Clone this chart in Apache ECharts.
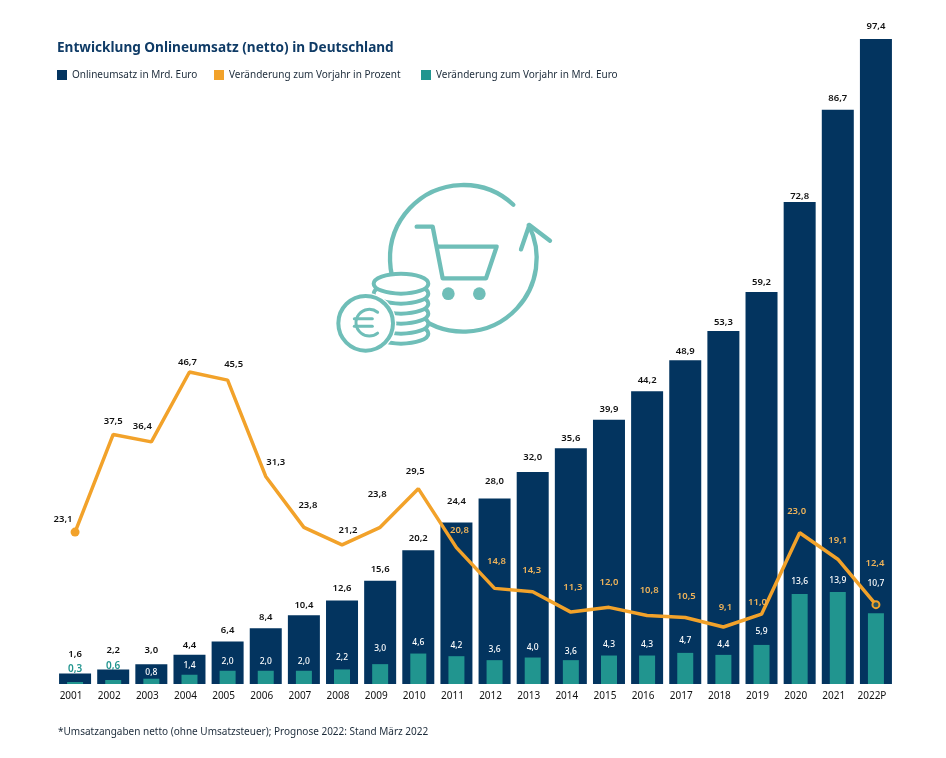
<!DOCTYPE html>
<html>
	<head>
		<meta charset="utf-8">
		<title>Entwicklung Onlineumsatz</title>
		<script src="https://cdn.jsdelivr.net/npm/echarts@6/dist/echarts.min.js"></script>
		<style>
			html, body { margin: 0; padding: 0; background: #fff; }
		</style>
	</head>
	<body>
		<div id="main" style="width: 946px; height: 758px;"></div>
		<script>
			var years = ['2001','2002','2003','2004','2005','2006','2007','2008','2009','2010','2011','2012','2013','2014','2015','2016','2017','2018','2019','2020','2021','2022P'];
			var umsatz = [1.6,2.2,3.0,4.4,6.4,8.4,10.4,12.6,15.6,20.2,24.4,28.0,32.0,35.6,39.9,44.2,48.9,53.3,59.2,72.8,86.7,97.4];
			var prozent = [23.1,37.5,36.4,46.7,45.5,31.3,23.8,21.2,23.8,29.5,20.8,14.8,14.3,11.3,12.0,10.8,10.5,9.1,11.0,23.0,19.1,12.4];
			var mrdEuro = [0.3,0.6,0.8,1.4,2.0,2.0,2.0,2.2,3.0,4.6,4.2,3.6,4.0,3.6,4.3,4.3,4.7,4.4,5.9,13.6,13.9,10.7];

			var names = ['Onlineumsatz in Mrd. Euro','Veränderung zum Vorjahr in Prozent','Veränderung zum Vorjahr in Mrd. Euro'];

			var navy = '#03345f';
			var orange = '#f2a22a';
			var paleOrange = '#eeb35a';
			var teal = '#21958f';
			var iconColor = '#6fbeb8';
			var font = '"Noto Sans", sans-serif';

			// Label-Versatz von Hand ans Original angepasst
			var barLabelDy = [-9,-9,-4,0,-1,-1,0,-2,-1,-2,-11,-7,-5,0,0,-1,1,1,0,4,-2,-3];
			var lineLabelDx = [-12,0,-9,-2,6,10,4,6,-3,-3,3,2,-1,2,0,2,1,2,-4,-3,0,-1];
			var lineLabelDy = [2,-3,-6,0,-6,-4,-12,-5,-23,-7,-7,-17,-11,-15,-15,-15,-11,-10,-2,-11,-9,-27];
			var tealLabelDy = [-4,-5,2,-1,-1,-1,-1,-3,-7,-2,-2,-2,-1,0,-2,-2,-4,-2,-5,-4,-3,-21];

			function fmt(v) {
				return v.toFixed(1).replace('.', ',');
			}

			var barData = umsatz.map(function (v, i) {
				return { value: v, label: { offset: [0, barLabelDy[i]] } };
			});

			var lineData = prozent.map(function (v, i) {
				var item = {
					value: v,
					symbol: 'circle',
					symbolSize: 0,
					label: {
						offset: [lineLabelDx[i], lineLabelDy[i]],
						// bis 2010 liegen die Werte auf weissem Grund
						color: i < 10 ? '#111' : paleOrange
					}
				};
				if (i == 0) {
					item.symbolSize = 9;
					item.itemStyle = { color: orange };
				}
				if (i == prozent.length - 1) {
					item.symbolSize = 7;
					item.itemStyle = { color: '#2a5560', borderColor: orange, borderWidth: 2 };
				}
				return item;
			});

			var tealData = mrdEuro.map(function (v, i) {
				return {
					value: v,
					label: {
						offset: [0, tealLabelDy[i]],
						color: i < 2 ? teal : '#fff',
						fontSize: i < 2 ? 10 : 8.5,
						fontWeight: i < 2 ? 600 : 500
					}
				};
			});

			// Icon in Koordinaten der Ausschnitt-Vergroesserung, Gruppe skaliert auf 1/3
			var s = { stroke: iconColor, lineWidth: 13, fill: null, lineCap: 'round', lineJoin: 'round' };
			var thin = { stroke: iconColor, lineWidth: 9, fill: null, lineCap: 'round' };
			var coin = { stroke: iconColor, lineWidth: 12, fill: '#fff' };
			var icon = [
				{ type: 'arc', shape: { cx: 430, cy: 265, r: 220, startAngle: -0.82, endAngle: -0.47, clockwise: false }, style: s },
				{ type: 'polyline', shape: { points: [[603,238],[628,165],[690,212]] }, style: s },
				{ type: 'polyline', shape: { points: [[290,170],[338,170],[368,325],[498,325],[530,230],[355,230]] }, style: s },
				{ type: 'circle', shape: { cx: 385, cy: 371, r: 19 }, style: { fill: iconColor } },
				{ type: 'circle', shape: { cx: 478, cy: 371, r: 19 }, style: { fill: iconColor } }
			];
			[491,461,431,401,371,341].forEach(function (cy) {
				icon.push({ type: 'ellipse', shape: { cx: 243, cy: cy, rx: 82, ry: 30 }, style: coin });
			});
			icon.push({ type: 'circle', shape: { cx: 137, cy: 460, r: 92 }, style: { fill: '#fff' } });
			icon.push({ type: 'circle', shape: { cx: 137, cy: 460, r: 82 }, style: coin });
			icon.push({ type: 'arc', shape: { cx: 148, cy: 458, r: 40, startAngle: -0.9, endAngle: 0.9, clockwise: false }, style: thin });
			icon.push({ type: 'line', shape: { x1: 103, y1: 446, x2: 157, y2: 446 }, style: thin });
			icon.push({ type: 'line', shape: { x1: 103, y1: 469, x2: 157, y2: 469 }, style: thin });

			var colorsLegend = [navy, orange, teal];
			var legendLeft = [52, 209, 416];

			var mychart = echarts.init(document.getElementById('main'));
			var option = {
				backgroundColor: '#fff',
				animation: false,
				color: colorsLegend,
				textStyle: { fontFamily: font },
				title: {
					text: 'Entwicklung Onlineumsatz (netto) in Deutschland',
					left: 57,
					top: 41,
					padding: 0,
					textStyle: { color: '#0f3b66', fontSize: 13.6, fontWeight: 'bold', fontFamily: font }
				},
				legend: names.map(function (n, i) {
					return {
						data: [{ name: n, icon: 'rect', itemStyle: { color: colorsLegend[i] } }],
						left: legendLeft[i],
						top: 65,
						itemWidth: 10,
						itemHeight: 10,
						itemGap: 0,
						selectedMode: false,
						textStyle: { color: '#1c2b3a', fontSize: 10, fontFamily: font }
					};
				}),
				grid: { left: 56, right: 51, top: 39, bottom: 74 },
				xAxis: [
					{
						type: 'category',
						data: years,
						axisLine: { show: false },
						axisTick: { show: false },
						axisLabel: { color: '#111', fontSize: 10, margin: 7, interval: 0, padding: [0, 8, 0, 0] }
					},
					{
						type: 'category',
						data: years,
						show: false
					}
				],
				yAxis: [
					{ type: 'value', min: 0, max: 97.4, show: false },
					{ type: 'value', min: 0.7, max: 95.8, show: false }
				],
				series: [
					{
						name: names[0],
						type: 'bar',
						data: barData,
						barWidth: 32,
						itemStyle: { color: navy },
						z: 2,
						label: {
							show: true,
							position: 'top',
							distance: 5,
							color: '#111',
							fontSize: 9.5,
							fontWeight: 600,
							formatter: function (p) { return fmt(p.value); }
						}
					},
					{
						name: names[2],
						type: 'bar',
						xAxisIndex: 1,
						data: tealData,
						barWidth: 16,
						itemStyle: { color: teal },
						z: 3,
						label: {
							show: true,
							position: 'top',
							distance: 4,
							formatter: function (p) { return fmt(p.value); }
						}
					},
					{
						name: names[1],
						type: 'line',
						yAxisIndex: 1,
						data: lineData,
						lineStyle: { color: orange, width: 3.5 },
						itemStyle: { color: orange },
						z: 4,
						label: {
							show: true,
							position: 'top',
							distance: 5,
							fontSize: 9.5,
							fontWeight: 600,
							formatter: function (p) { return fmt(p.value); }
						}
					}
				],
				graphic: [
					{ type: 'group', x: 320, y: 170, scaleX: 1 / 3, scaleY: 1 / 3, silent: true, children: icon },
					{
						type: 'text',
						left: 58,
						top: 727,
						style: {
							text: '*Umsatzangaben netto (ohne Umsatzsteuer); Prognose 2022: Stand März 2022',
							fill: '#1c2b3a',
							font: '10px ' + font
						}
					}
				]
			};
			mychart.setOption(option);
		</script>
	</body>
</html>
